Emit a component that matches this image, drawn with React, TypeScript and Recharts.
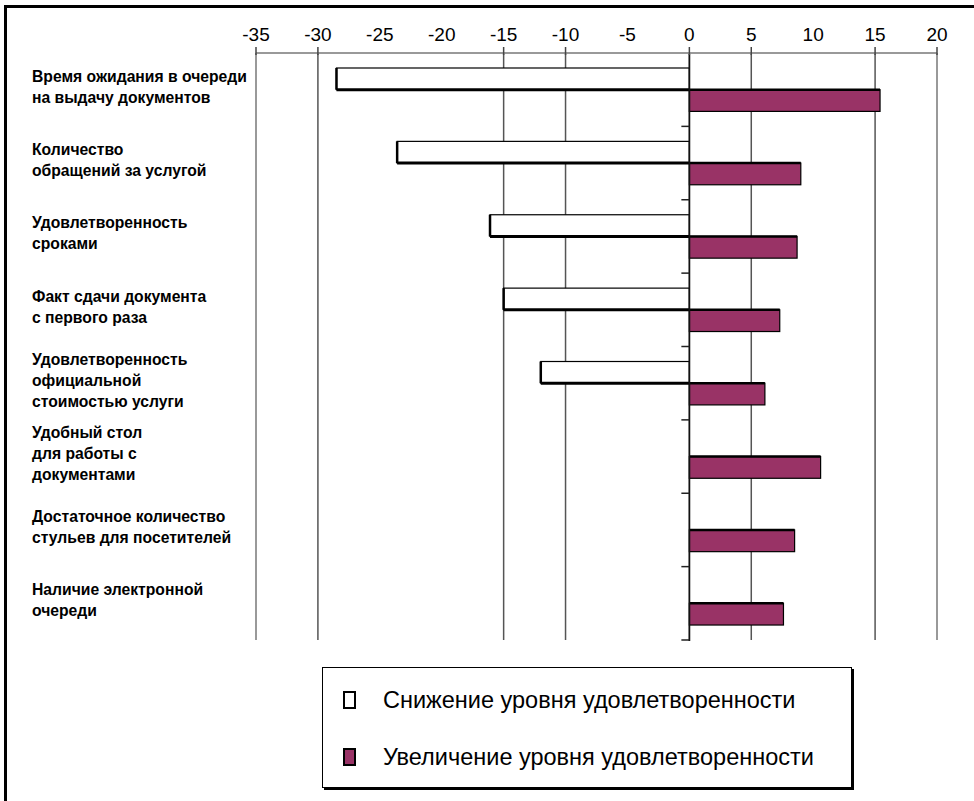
import React from 'react';
import { BarChart, Bar, XAxis, YAxis, ReferenceLine } from 'recharts';

const CATEGORIES = [
  'Время ожидания в очереди\nна выдачу документов',
  'Количество\nобращений за услугой',
  'Удовлетворенность\nсроками',
  'Факт сдачи документа\nс первого раза',
  'Удовлетворенность\nофициальной\nстоимостью услуги',
  'Удобный стол\nдля работы с\nдокументами',
  'Достаточное количество\nстульев для посетителей',
  'Наличие электронной\nочереди',
];
const DECREASE = [-28.5, -23.6, -16.1, -15, -12, null, null, null];
const INCREASE = [15.4, 9.0, 8.7, 7.3, 6.1, 10.6, 8.5, 7.6];
const X_TICKS = [-35, -30, -25, -20, -15, -10, -5, 0, 5, 10, 15, 20];
const TICK_MARKS = [-35, -30, -15, -10, 0, 5, 15, 20];
const GRID_VALUES = [-30, -15, -10, 5, 15];

const SERIES = [
  { key: 'decrease', name: 'Снижение уровня удовлетворенности', color: '#ffffff' },
  { key: 'increase', name: 'Увеличение уровня удовлетворенности', color: '#993366' },
];

const data = CATEGORIES.map((name, i) => ({
  name,
  decrease: DECREASE[i],
  increase: INCREASE[i],
}));

const FONT = '"Liberation Sans", Arial, sans-serif';

const TopTick = (props: any) => {
  const { x, y, payload } = props;
  const mark = TICK_MARKS.includes(payload.value);
  return (
    <g>
      {mark && <line x1={x} x2={x} y1={y + 2} y2={y + 10} stroke="#444" strokeWidth={1.5} />}
      <text x={x} y={y - 4} textAnchor="middle" fontSize={19} fontFamily={FONT} fill="#000">
        {payload.value}
      </text>
    </g>
  );
};

const CategoryTick = (props: any) => {
  const { y, payload } = props;
  const lines = String(payload.value).split('\n');
  const lh = 21;
  const first = y - 3 - ((lines.length - 1) * lh) / 2 + 5.5;
  return (
    <text x={32} y={first} fontSize={15.7} fontWeight="bold" fontFamily={FONT} fill="#000">
      {lines.map((l, i) => (
        <tspan key={i} x={32} y={first + i * lh}>
          {l}
        </tspan>
      ))}
    </text>
  );
};

const ZeroAxis = (props: any) => {
  const { x1, y1, y2 } = props;
  const top = Math.min(y1, y2);
  const bottom = Math.max(y1, y2);
  const step = (bottom - top) / CATEGORIES.length;
  return (
    <g>
      <line x1={x1} x2={x1} y1={top} y2={bottom + 1} stroke="#111" strokeWidth={1.8} />
      {CATEGORIES.map((_, i) => (
        <line
          key={i}
          x1={x1 - 8}
          x2={x1}
          y1={top + (i + 1) * step}
          y2={top + (i + 1) * step}
          stroke="#222"
          strokeWidth={1.5}
        />
      ))}
    </g>
  );
};

const BarShape = (props: any) => {
  const { x, y, width, height, fill, dataKey } = props;
  if (!width || !height) return null;
  const left = Math.min(x, x + width);
  const w = Math.abs(width);
  const isWhite = dataKey === 'decrease';
  return (
    <g>
      <rect x={left} y={y} width={w} height={height} fill={fill} stroke="#000" strokeWidth={1.2} />
      {isWhite ? (
        <>
          <line x1={left} x2={left + w} y1={y + height} y2={y + height} stroke="#000" strokeWidth={3} />
          <line x1={left} x2={left} y1={y} y2={y + height} stroke="#000" strokeWidth={2.5} />
        </>
      ) : (
        <line x1={left} x2={left + w} y1={y} y2={y} stroke="#000" strokeWidth={2.5} />
      )}
    </g>
  );
};

export default function App() {
  return (
    <div
      style={{
        position: 'fixed',
        left: 0,
        top: 0,
        width: 974,
        height: 801,
        overflow: 'hidden',
        background: '#fff',
        fontFamily: FONT,
      }}
    >
      <div
        style={{
          position: 'absolute',
          left: 4,
          top: 5,
          width: 1100,
          height: 1100,
          borderTop: '3px solid #000',
          borderLeft: '3px solid #000',
        }}
      />
      <div style={{ position: 'absolute', left: 0, top: 0 }}>
        <BarChart
          width={974}
          height={801}
          data={data}
          layout="vertical"
          margin={{ top: 23, right: 37, bottom: 161, left: 32 }}
          barGap={0}
          barSize={21.7}
        >
          <XAxis
            type="number"
            orientation="top"
            domain={[-35, 20]}
            ticks={X_TICKS}
            interval={0}
            height={30}
            allowDataOverflow
            axisLine={{ stroke: '#999', strokeWidth: 2 }}
            tickLine={false}
            tick={<TopTick />}
          />
          <XAxis
            xAxisId="bottom"
            type="number"
            orientation="bottom"
            domain={[-35, 20]}
            height={0}
            tick={false}
            tickLine={false}
            axisLine={{ stroke: '#999', strokeWidth: 3 }}
          />
          <YAxis
            type="category"
            dataKey="name"
            width={224}
            interval={0}
            tickLine={false}
            axisLine={{ stroke: '#999', strokeWidth: 2 }}
            tick={<CategoryTick />}
          />
          {GRID_VALUES.map((v) => (
            <ReferenceLine key={v} x={v} stroke="#555" strokeWidth={1.5} zIndex={-60} />
          ))}
          <ReferenceLine x={20} stroke="#999" strokeWidth={2} zIndex={-60} />
          {SERIES.map((s) => (
            <Bar
              key={s.key}
              dataKey={s.key}
              name={s.name}
              fill={s.color}
              shape={<BarShape />}
              isAnimationActive={false}
            />
          ))}
          <ReferenceLine x={0} shape={<ZeroAxis />} />
        </BarChart>
      </div>
      <div
        style={{
          position: 'absolute',
          left: 322,
          top: 667,
          width: 528,
          height: 119,
          border: '1.5px solid #000',
          boxShadow: '2px 2px 0 #000',
        }}
      >
        {SERIES.map((s, i) => (
          <div
            key={s.key}
            style={{ position: 'absolute', left: 20, top: 20 + i * 57, height: 24, display: 'flex', alignItems: 'center' }}
          >
            <div
              style={{
                width: 9,
                height: 14,
                border: '2px solid #000',
                background: s.color,
                marginRight: 27,
              }}
            />
            <span style={{ fontSize: 23.5, color: '#000', whiteSpace: 'nowrap' }}>{s.name}</span>
          </div>
        ))}
      </div>
    </div>
  );
}
